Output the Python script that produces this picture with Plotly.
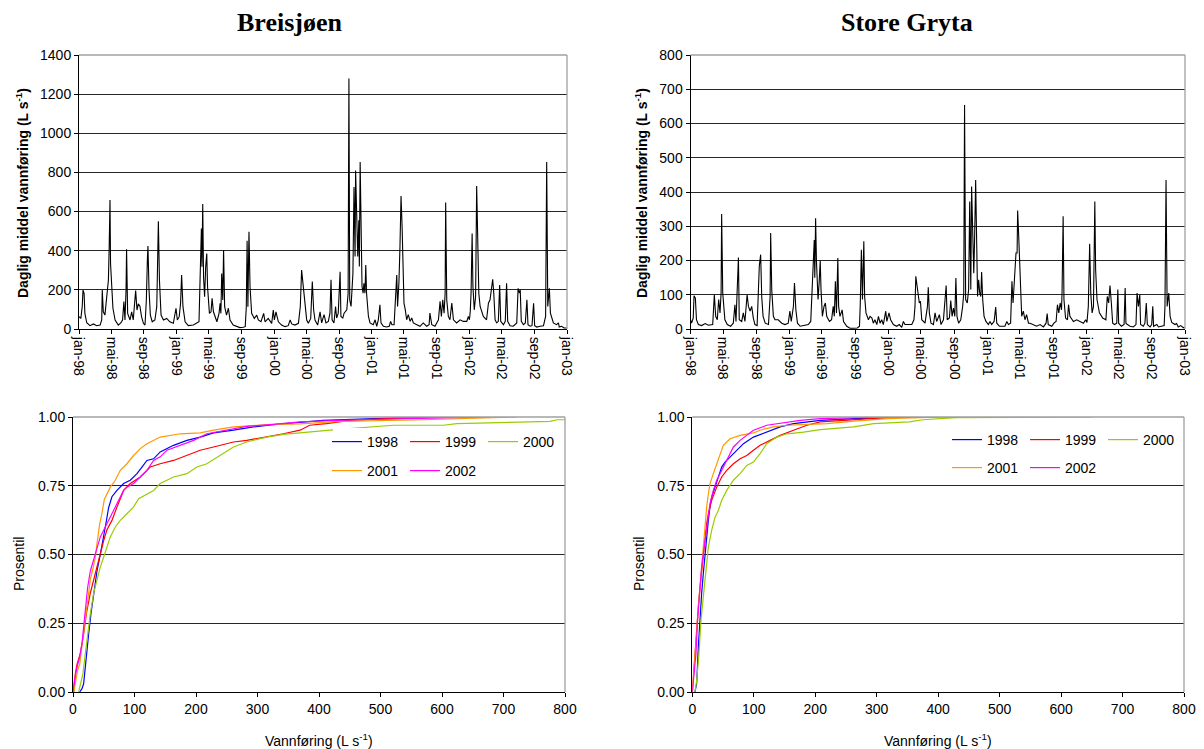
import pandas as pd
import plotly.graph_objects as go

# ---------------- DATA ----------------
# Daily mean discharge hydrographs, day = days since 1998-01-01, q in L/s
breis_day = [0, 7, 12, 15, 19, 22, 29, 41, 54, 66, 79, 85, 87, 91, 97, 105, 110, 113, 116, 118, 122, 127, 135, 147,
             157, 163, 168, 172, 176, 178, 182, 191, 197, 203, 212, 217, 222, 228, 234, 241, 247, 252, 256, 258, 262,
             267, 274, 284, 291, 293, 297, 301, 307, 316, 328, 340, 353, 363, 368, 375, 380, 384, 389, 397, 409, 428,
             440, 449, 453, 455, 458, 460, 463, 466, 470, 474, 478, 481, 488, 494, 498, 503, 509, 516, 524, 528, 531,
             534, 538, 541, 545, 552, 559, 565, 577, 590, 602, 615, 622, 626, 629, 632, 636, 640, 646, 656, 665, 671,
             681, 691, 696, 708, 721, 727, 731, 737, 746, 758, 771, 783, 790, 796, 808, 821, 828, 833, 837, 842, 846,
             852, 858, 867, 873, 878, 883, 893, 902, 908, 917, 924, 933, 939, 943, 947, 954, 960, 964, 970, 977, 980,
             987, 992, 1002, 1007, 1010, 1013, 1018, 1022, 1025, 1029, 1033, 1035, 1039, 1043, 1047, 1049, 1052, 1055,
             1059, 1063, 1066, 1070, 1073, 1076, 1083, 1089, 1101, 1108, 1114, 1120, 1126, 1130, 1139, 1151, 1161,
             1166, 1171, 1179, 1184, 1189, 1192, 1197, 1201, 1205, 1209, 1212, 1216, 1221, 1226, 1232, 1239, 1245,
             1251, 1264, 1276, 1288, 1301, 1310, 1313, 1320, 1332, 1345, 1351, 1356, 1361, 1366, 1370, 1372, 1376,
             1382, 1388, 1395, 1401, 1413, 1426, 1438, 1451, 1457, 1461, 1464, 1467, 1471, 1474, 1479, 1484, 1488,
             1492, 1496, 1501, 1513, 1525, 1532, 1538, 1544, 1548, 1552, 1557, 1563, 1569, 1574, 1578, 1588, 1595,
             1600, 1604, 1613, 1625, 1638, 1643, 1648, 1651, 1655, 1663, 1670, 1676, 1680, 1688, 1695, 1701, 1705,
             1713, 1725, 1738, 1746, 1750, 1754, 1760, 1764, 1769, 1775, 1787, 1794, 1797, 1806, 1815, 1825]
breis_q = [63, 54, 114, 199, 182, 80, 32, 17, 26, 17, 20, 46, 199, 88, 71, 165, 250, 420, 659, 335, 216, 106, 46, 20,
           32, 46, 140, 46, 199, 408, 80, 46, 88, 46, 196, 97, 128, 117, 63, 29, 20, 148, 361, 424, 199,
           71, 37, 46, 114, 335, 551, 250, 71, 46, 54, 37, 29, 106, 46, 63, 131, 276, 114, 37, 17, 20,
           29, 37, 250, 352, 514, 318, 638, 267, 165, 318, 386, 216, 80, 88, 157, 88, 63, 37, 80, 131, 80,
           284, 148, 403, 114, 71, 106, 46, 20, 12, 7, 9, 12, 114, 451, 114, 497, 216, 80, 54, 71, 46,
           37, 80, 37, 54, 29, 97, 46, 88, 37, 20, 12, 17, 46, 26, 20, 29, 114, 301, 250, 165, 148,
           46, 29, 54, 242, 97, 46, 20, 88, 31, 73, 31, 39, 81, 251, 47, 31, 115, 56, 81, 293, 64,
           56, 81, 98, 183, 1280, 149, 115, 217, 285, 725, 370, 810, 573, 370, 556, 319, 853, 420,
           217, 183, 234, 183, 327, 183, 64, 31, 22, 47, 14, 47, 124, 31, 14, 10, 14,
           39, 22, 22, 166, 276, 115, 234, 420, 680, 522, 285, 132, 98, 47, 73, 39, 56,
           31, 22, 14, 31, 14, 22, 81, 22, 14, 47, 141, 64, 149, 81, 183, 646, 149,
           64, 47, 132, 47, 31, 47, 39, 39, 64, 47, 90, 183, 488, 217, 98, 166, 731,
           336, 183, 115, 64, 47, 132, 149, 208, 254, 183, 47, 31, 39, 225, 39, 22, 39,
           234, 39, 17, 14, 31, 208, 183, 200, 39, 22, 31, 149, 22, 14, 17, 132, 17,
           10, 14, 17, 64, 853, 115, 208, 81, 56, 31, 22, 31, 10, 14, 5, 5]

gryta_day = [0, 4, 10, 13, 18, 22, 29, 41, 54, 66, 82, 88, 93, 99, 104, 109, 113, 115, 119, 123, 127, 136, 148, 158,
             164, 168, 173, 177, 180, 189, 195, 201, 209, 214, 220, 226, 232, 238, 246, 250, 254, 259, 263, 268, 276,
             288, 294, 296, 300, 306, 312, 324, 337, 349, 361, 367, 372, 380, 384, 389, 395, 405, 423, 435, 444, 451,
             457, 459, 462, 465, 468, 471, 475, 479, 482, 487, 493, 498, 503, 513, 521, 527, 531, 535, 539, 544, 547,
             552, 560, 565, 577, 589, 601, 616, 624, 627, 631, 635, 640, 643, 648, 657, 663, 670, 675, 681, 688, 694,
             700, 706, 712, 721, 725, 733, 739, 749, 761, 771, 780, 786, 792, 805, 817, 825, 829, 832, 836, 840, 845,
             849, 854, 866, 875, 878, 882, 888, 897, 903, 909, 919, 925, 934, 944, 948, 956, 961, 966, 971, 976, 980,
             984, 990, 998, 1005, 1009, 1012, 1016, 1022, 1027, 1031, 1035, 1038, 1042, 1046, 1049, 1053, 1057, 1060,
             1064, 1068, 1072, 1075, 1079, 1084, 1091, 1100, 1106, 1112, 1121, 1127, 1131, 1141, 1149, 1161, 1168,
             1174, 1182, 1187, 1191, 1195, 1202, 1206, 1208, 1212, 1216, 1219, 1223, 1229, 1235, 1241, 1248, 1254,
             1266, 1278, 1291, 1303, 1313, 1317, 1321, 1334, 1342, 1350, 1355, 1360, 1365, 1370, 1372, 1376, 1379,
             1385, 1392, 1396, 1401, 1414, 1426, 1438, 1451, 1459, 1464, 1469, 1474, 1478, 1483, 1488, 1493, 1496,
             1501, 1510, 1522, 1534, 1539, 1544, 1549, 1554, 1559, 1566, 1574, 1578, 1581, 1591, 1601, 1605, 1608,
             1623, 1635, 1645, 1649, 1654, 1659, 1662, 1672, 1678, 1683, 1687, 1697, 1703, 1707, 1710, 1722, 1728,
             1740, 1749, 1752, 1756, 1760, 1766, 1771, 1777, 1789, 1795, 1801, 1810, 1820, 1825]
gryta_q = [27, 17, 32, 97, 90, 27, 13, 10, 16, 11, 13, 100, 37, 27, 86, 47, 105, 336, 105, 66, 27, 13, 8, 17,
           71, 22, 105, 209, 27, 22, 47, 22, 100, 66, 52, 66, 32, 13, 10, 86, 183, 217, 95, 37, 17,
           13, 95, 280, 115, 37, 27, 27, 17, 13, 17, 52, 22, 66, 134, 56, 17, 8, 10, 13, 22, 173,
           260, 150, 323, 200, 150, 86, 134, 199, 115, 37, 66, 76, 37, 22, 27, 66, 37, 139, 47, 207, 66,
           37, 56, 22, 8, 2, 2, 3, 8, 76, 231, 86, 256, 95, 47, 27, 37, 32, 17, 27, 13, 37,
           17, 27, 13, 52, 22, 47, 27, 13, 8, 13, 5, 22, 13, 13, 13, 27, 66, 154, 134, 110, 76,
           81, 27, 17, 66, 122, 47, 17, 13, 47, 22, 42, 13, 27, 127, 27, 32, 83, 37, 61, 37, 149,
           37, 17, 27, 66, 105, 654, 86, 76, 115, 372, 115, 416, 260, 163, 260, 435, 241, 95,
           144, 105, 95, 166, 86, 37, 22, 13, 22, 13, 22, 64, 17, 8, 8, 8, 22,
           13, 17, 139, 76, 124, 222, 222, 346, 270, 163, 76, 37, 52, 27, 42, 17, 17,
           13, 8, 13, 6, 17, 45, 13, 8, 17, 22, 71, 47, 76, 56, 105, 329, 86,
           32, 27, 71, 37, 22, 27, 22, 17, 27, 19, 66, 249, 105, 47, 66, 372, 173,
           86, 47, 32, 27, 95, 76, 127, 76, 17, 13, 17, 115, 17, 8, 13, 120, 16,
           8, 6, 13, 105, 66, 100, 13, 8, 17, 76, 13, 6, 13, 66, 8, 13, 6,
           8, 10, 66, 435, 66, 105, 37, 19, 13, 16, 6, 10, 4, 3]

# Time-axis ticks
date_ticks = ["1998-01-01", "1998-05-01", "1998-09-01", "1999-01-01", "1999-05-01", "1999-09-01",
              "2000-01-01", "2000-05-01", "2000-09-01", "2001-01-01", "2001-05-01", "2001-09-01",
              "2002-01-01", "2002-05-01", "2002-09-01", "2003-01-01"]
date_labels = ["jan-98", "mai-98", "sep-98", "jan-99", "mai-99", "sep-99", "jan-00", "mai-00", "sep-00",
               "jan-01", "mai-01", "sep-01", "jan-02", "mai-02", "sep-02", "jan-03"]

years = ["1998", "1999", "2000", "2001", "2002"]
year_colors = ["#0000FF", "#FF0000", "#99CC00", "#FF9900", "#FF00FF"]

# Cumulative distributions (discharge L/s, percentile)
breis_cdf_q = {
    "1998": [10.8, 14.6, 17.3, 20.0, 22.7, 25.4, 29.2, 33.6, 39.0, 44.4, 49.8, 54.1, 57.9, 63.3, 71.5, 82.3, 93.1,
             104, 112.1, 120.2, 131, 141.8, 163.5, 185.2, 206.8, 228.5, 261, 293.4, 325.9, 358.4, 406.5, 515.2, 624],
    "1999": [1.1, 3.8, 6.5, 11.9, 17.3, 21.7, 28.2, 33.6, 39.0, 44.4, 49.8, 55.2, 63.3, 71.5, 82.3, 93.1, 109.4,
             125.6, 141.8, 163.5, 185.2, 206.8, 228.5, 261, 282.6, 315, 342.2, 369.2, 384.8, 412, 450, 531.5, 656.5],
    "2000": [9.2, 11.9, 16.2, 20.0, 23.8, 28.2, 33.6, 39.0, 44.4, 49.8, 55.2, 60.6, 68.8, 76.9, 87.7, 98.5, 106.7,
             120.2, 131, 141.8, 163.5, 185.2, 201.4, 217.6, 239.3, 261, 282.6, 315, 342.2, 369.2, 417.4, 520.7,
             602.2, 624, 776, 787, 800],
    "2001": [1.1, 3.8, 7.6, 10.8, 14.6, 18.4, 23.8, 28.2, 32.5, 36.3, 39.0, 43.3, 47.1, 50.9, 55.2, 60.6, 68.8,
             76.9, 87.7, 98.5, 109.4, 120.2, 141.8, 174.3, 206.8, 228.5, 261, 315, 369.2, 433.7, 569.6, 700, 721.7],
    "2002": [0, 2.2, 6.5, 10.8, 14.6, 17.3, 20.0, 23.8, 28.2, 33.6, 39.0, 44.4, 49.8, 55.2, 60.6, 66.1, 71.5, 76.9,
             82.3, 87.7, 98.5, 109.4, 120.2, 131, 141.8, 152.7, 174.3, 196, 217.6, 250.1, 282.6, 325.9, 369.2,
             460.9, 569.6, 678.3],
}
breis_cdf_p = {
    "1998": [0, 0.012, 0.03, 0.10, 0.16, 0.21, 0.285, 0.36, 0.44, 0.50, 0.56, 0.62, 0.67, 0.71, 0.733, 0.758, 0.77,
             0.794, 0.818, 0.842, 0.848, 0.873, 0.897, 0.915, 0.927, 0.942, 0.952, 0.964, 0.972, 0.978, 0.988, 0.996, 1.0],
    "1999": [0, 0.067, 0.10, 0.14, 0.21, 0.285, 0.36, 0.41, 0.455, 0.50, 0.55, 0.59, 0.624, 0.673, 0.733, 0.758,
             0.782, 0.818, 0.83, 0.842, 0.86, 0.879, 0.891, 0.909, 0.915, 0.927, 0.939, 0.952, 0.97, 0.976, 0.988,
             0.996, 1.0],
    "2000": [0, 0.03, 0.067, 0.14, 0.21, 0.285, 0.36, 0.406, 0.455, 0.49, 0.527, 0.564, 0.60, 0.624, 0.648, 0.673,
             0.703, 0.721, 0.733, 0.758, 0.782, 0.794, 0.818, 0.83, 0.86, 0.891, 0.909, 0.927, 0.937, 0.943, 0.952,
             0.97, 0.97, 0.976, 0.984, 0.99, 0.99],
    "2001": [0, 0.03, 0.08, 0.10, 0.18, 0.24, 0.33, 0.41, 0.45, 0.49, 0.54, 0.61, 0.65, 0.70, 0.72, 0.745, 0.77,
             0.806, 0.83, 0.86, 0.885, 0.903, 0.927, 0.939, 0.942, 0.952, 0.964, 0.972, 0.975, 0.984, 0.99, 1.0, 1.0],
    "2002": [0, 0.04, 0.09, 0.127, 0.176, 0.236, 0.285, 0.38, 0.44, 0.48, 0.527, 0.564, 0.588, 0.612, 0.636, 0.66,
             0.685, 0.709, 0.733, 0.745, 0.758, 0.782, 0.806, 0.842, 0.855, 0.879, 0.897, 0.915, 0.939, 0.952,
             0.966, 0.973, 0.982, 0.99, 0.996, 1.0],
}
gryta_cdf_q = {
    "1998": [4.3, 7.1, 9.8, 12.5, 15.2, 17.9, 20.7, 23.4, 26.1, 28.8, 31.5, 37.0, 42.4, 47.8, 53.3, 61.4, 72.3,
             83.2, 99.5, 121.2, 142.9, 164.7, 208.2, 262.5, 316.9, 371.2],
    "1999": [0, 1.6, 4.3, 7.1, 9.8, 12.5, 15.2, 17.9, 20.7, 23.4, 26.1, 31.5, 39.7, 47.8, 56.0, 66.9, 77.7, 88.6,
             99.5, 110.3, 126.6, 142.9, 164.7, 186.4, 208.2, 262.5, 316.9, 371.2],
    "2000": [4.3, 7.1, 10.9, 14.1, 17.9, 22.3, 26.1, 31.5, 37.0, 42.4, 47.8, 56.0, 66.9, 77.7, 88.6, 99.5, 110.3,
             121.2, 137.5, 153.8, 181.0, 208.2, 235.3, 262.5, 295.1, 344.0, 353, 375, 429, 652],
    "2001": [0, 1.6, 4.3, 7.1, 9.8, 12.5, 15.2, 17.9, 20.7, 23.4, 26.1, 28.8, 34.2, 39.7, 45.1, 50.5, 61.4, 77.7,
             99.5, 110.3, 132.1, 153.8, 186.4, 219.0, 262.5, 316.9, 371.2, 400],
    "2002": [0, 2.7, 6.0, 8.2, 10.3, 12.5, 15.2, 17.9, 20.7, 24.5, 28.8, 34.2, 39.7, 45.1, 50.5, 58.7, 66.9, 77.7,
             88.6, 99.5, 121.2, 142.9, 175.6, 208.2, 262.5, 316.9, 432],
}
gryta_cdf_p = {
    "1998": [0, 0.03, 0.164, 0.285, 0.358, 0.43, 0.503, 0.564, 0.624, 0.673, 0.709, 0.745, 0.782, 0.818, 0.836,
             0.855, 0.879, 0.903, 0.927, 0.945, 0.964, 0.976, 0.988, 0.994, 0.998, 1.0],
    "1999": [0, 0.055, 0.127, 0.236, 0.31, 0.38, 0.44, 0.503, 0.564, 0.612, 0.648, 0.697, 0.745, 0.782, 0.806,
             0.83, 0.848, 0.86, 0.879, 0.897, 0.915, 0.933, 0.952, 0.97, 0.982, 0.99, 0.998, 1.0],
    "2000": [0, 0.042, 0.14, 0.26, 0.345, 0.455, 0.527, 0.588, 0.636, 0.66, 0.697, 0.733, 0.77, 0.794, 0.824,
             0.836, 0.867, 0.903, 0.927, 0.939, 0.945, 0.954, 0.96, 0.964, 0.976, 0.979, 0.982, 0.99, 0.998, 1.0],
    "2001": [0, 0.042, 0.115, 0.21, 0.31, 0.38, 0.455, 0.55, 0.624, 0.673, 0.72, 0.758, 0.794, 0.83, 0.867, 0.897,
             0.921, 0.933, 0.942, 0.952, 0.964, 0.97, 0.973, 0.976, 0.985, 0.994, 0.998, 1.0],
    "2002": [0, 0.067, 0.14, 0.248, 0.31, 0.394, 0.455, 0.503, 0.55, 0.624, 0.685, 0.733, 0.77, 0.794, 0.818,
             0.855, 0.891, 0.915, 0.933, 0.952, 0.97, 0.978, 0.988, 0.994, 0.998, 1.0, 1.0],
}

# ---------------- FIGURE ----------------
W, H = 1204, 749
FONT = "Liberation Sans, Arial, sans-serif"
FS = 14
GRID = "#262626"
FRAME = "#A0A0A0"


def fx(px):
    return px / W


def fy(py):
    return 1 - py / H


base = pd.Timestamp("1998-01-01")
breis_dates = base + pd.to_timedelta(breis_day, unit="D")
gryta_dates = base + pd.to_timedelta(gryta_day, unit="D")

fig = go.Figure()
fig.add_trace(go.Scatter(x=breis_dates, y=breis_q, mode="lines", line=dict(color="black", width=1.1),
                         showlegend=False, xaxis="x", yaxis="y"))
fig.add_trace(go.Scatter(x=gryta_dates, y=gryta_q, mode="lines", line=dict(color="black", width=1.1),
                         showlegend=False, xaxis="x2", yaxis="y2"))

legend_of = {"1998": 0, "1999": 0, "2000": 0, "2001": 1, "2002": 1}
for i, yr in enumerate(years):
    row = legend_of[yr]
    fig.add_trace(go.Scatter(x=breis_cdf_q[yr], y=breis_cdf_p[yr], mode="lines", name=yr,
                             line=dict(color=year_colors[i], width=1.2),
                             xaxis="x3", yaxis="y3", legend="legend" if row == 0 else "legend2"))
    fig.add_trace(go.Scatter(x=gryta_cdf_q[yr], y=gryta_cdf_p[yr], mode="lines", name=yr,
                             line=dict(color=year_colors[i], width=1.2),
                             xaxis="x4", yaxis="y4", legend="legend3" if row == 0 else "legend4"))

tickfont = dict(family=FONT, size=FS, color="black")


def xdate(domain, anchor):
    return dict(domain=domain, anchor=anchor, type="date", range=["1998-01-01", "2003-01-01"],
                tickvals=date_ticks, ticktext=date_labels, tickangle=90, ticks="outside", ticklen=4,
                tickcolor="black", showline=True, linecolor="black", linewidth=1, showgrid=False,
                tickfont=tickfont, zeroline=False, automargin=False)


def ylin(domain, anchor, rng, dtick, fmt=None):
    d = dict(domain=domain, anchor=anchor, range=rng, dtick=dtick, tick0=0, ticks="outside", ticklen=4,
             tickcolor="black", showline=True, linecolor="black", linewidth=1, showgrid=True,
             gridcolor=GRID, gridwidth=1, tickfont=tickfont, zeroline=False, automargin=False)
    if fmt:
        d["tickformat"] = fmt
    return d


def xq(domain, anchor):
    return dict(domain=domain, anchor=anchor, range=[0, 800], dtick=100, tick0=0, ticks="outside", ticklen=4,
                tickcolor="black", showline=True, linecolor="black", linewidth=1, showgrid=False,
                tickfont=tickfont, zeroline=False, automargin=False)


top_y = [fy(329), fy(55)]
bot_y = [fy(692), fy(417)]

fig.update_layout(
    width=W, height=H, margin=dict(l=0, r=0, t=0, b=0, autoexpand=False),
    paper_bgcolor="white", plot_bgcolor="white",
    font=dict(family=FONT, size=FS, color="black"),
    xaxis=xdate([fx(79), fx(567)], "y"),
    yaxis=ylin(top_y, "x", [0, 1400], 200),
    xaxis2=xdate([fx(690.5), fx(1185)], "y2"),
    yaxis2=ylin(top_y, "x2", [0, 800], 100),
    xaxis3=xq([fx(73), fx(565)], "y3"),
    yaxis3=ylin(bot_y, "x3", [0, 1], 0.25, ".2f"),
    xaxis4=xq([fx(692.3), fx(1184)], "y4"),
    yaxis4=ylin(bot_y, "x4", [0, 1], 0.25, ".2f"),
)

leg_common = dict(orientation="h", entrywidth=33, entrywidthmode="pixels", bgcolor="rgba(0,0,0,0)",
                  borderwidth=0, font=dict(family=FONT, size=FS, color="black"),
                  xanchor="left", yanchor="middle", itemwidth=30)
fig.update_layout(
    legend=dict(x=fx(327), y=fy(442), **leg_common),
    legend2=dict(x=fx(327), y=fy(471), **leg_common),
    legend3=dict(x=fx(947), y=fy(440), **leg_common),
    legend4=dict(x=fx(947), y=fy(468), **leg_common),
)

shapes = []
# grey top and right frame of every plot area
for xa, ya in [("x", "y"), ("x2", "y2"), ("x3", "y3"), ("x4", "y4")]:
    shapes.append(dict(type="line", xref=f"{xa} domain", yref=f"{ya} domain", x0=0, x1=1, y0=1, y1=1,
                       line=dict(color=FRAME, width=1.3), layer="above"))
    shapes.append(dict(type="line", xref=f"{xa} domain", yref=f"{ya} domain", x0=1, x1=1, y0=0, y1=1,
                       line=dict(color=FRAME, width=1.3), layer="above"))
# white legend boxes (Excel style legend background), kept clear of the 0.75 gridline
shapes.append(dict(type="rect", xref="paper", yref="paper", x0=fx(333), x1=fx(562), y0=fy(481), y1=fy(428),
                   fillcolor="white", line=dict(width=0), layer="above"))
shapes.append(dict(type="rect", xref="paper", yref="paper", x0=fx(953), x1=fx(1182), y0=fy(481), y1=fy(424),
                   fillcolor="white", line=dict(width=0), layer="above"))
fig.update_layout(shapes=shapes)

ann = []
title_font = dict(family="Liberation Serif, Times New Roman, serif", size=26, color="black")
ann.append(dict(text="<b>Breisjøen</b>", x=fx(289.5), y=fy(22), xref="paper", yref="paper",
                showarrow=False, font=title_font, xanchor="center", yanchor="middle"))
ann.append(dict(text="<b>Store Gryta</b>", x=fx(906.5), y=fy(22), xref="paper", yref="paper",
                showarrow=False, font=title_font, xanchor="center", yanchor="middle"))
ytitle = "<b>Daglig middel vannføring (L s<sup>-1</sup>)</b>"
for xc in (22, 641):
    ann.append(dict(text=ytitle, x=fx(xc), y=fy(193), xref="paper", yref="paper", textangle=-90,
                    showarrow=False, font=dict(family=FONT, size=FS), xanchor="center", yanchor="middle"))
for xc in (19, 639):
    ann.append(dict(text="Prosentil", x=fx(xc), y=fy(564), xref="paper", yref="paper", textangle=-90,
                    showarrow=False, font=dict(family=FONT, size=FS), xanchor="center", yanchor="middle"))
for xc in (319, 938):
    ann.append(dict(text="Vannføring (L s<sup>-1</sup>)", x=fx(xc), y=fy(740), xref="paper", yref="paper",
                    showarrow=False, font=dict(family=FONT, size=FS), xanchor="center", yanchor="middle"))
fig.update_layout(annotations=ann)

fig.write_html("out.html")
